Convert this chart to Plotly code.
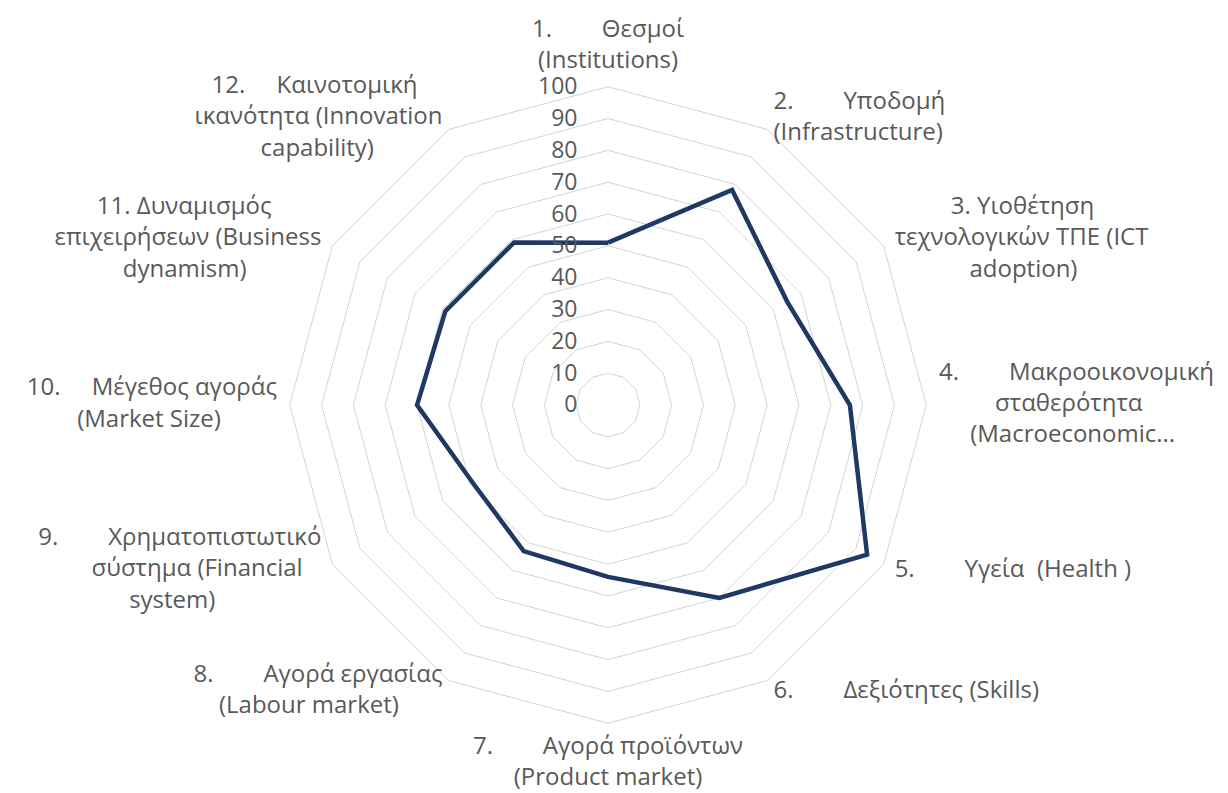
import plotly.graph_objects as go

NB = "\u00a0"

categories = [
    f"1.{NB*8}Θεσμοί<br>(Institutions)",
    f"2.{NB*8}Υποδομή<br>(Infrastructure)",
    f"{NB*9}3. Υιοθέτηση<br>τεχνολογικών ΤΠΕ (ICT<br>{NB*12}adoption)",
    f"4.{NB*8}Μακροοικονομική<br>{NB*9}σταθερότητα<br>{NB*5}(Macroeconomic...",
    f"5.{NB*8}Υγεία{NB*2}(Health )",
    f"6.{NB*8}Δεξιότητες (Skills)",
    f"7.{NB*8}Αγορά προϊόντων<br>(Product market)",
    f"8.{NB*8}Αγορά εργασίας<br>(Labour market){NB*7}",
    f"9.{NB*8}Χρηματοπιστωτικό<br>σύστημα (Financial{NB*3}<br>system){NB*17}",
    f"10.{NB*5}Μέγεθος αγοράς<br>(Market Size){NB*9}",
    f"11. Δυναμισμός{NB*8}<br>επιχειρήσεων (Business<br>dynamism){NB*12}",
    f"12.{NB*5}Καινοτομική{NB*4}<br>ικανότητα (Innovation<br>capability){NB*11}",
]
values = [51, 78, 65, 76, 94, 70, 54, 53, 49, 60, 59, 59]
radial_ticks = [0, 10, 20, 30, 40, 50, 60, 70, 80, 90, 100]

# label placement (style): radius just outside the 100 ring and side of each label
LABEL_R = 104
label_positions = ["top center"] + ["middle right"] * 5 + ["bottom center"] + ["middle left"] * 5

TEXT = "#595959"
LINE = "#1F3864"
GRID = "#D3D3D3"
FONT = "Open Sans"

fig = go.Figure()
fig.add_trace(go.Scatterpolar(
    r=values + values[:1],
    theta=categories + categories[:1],
    mode="lines",
    line=dict(color=LINE, width=4.5),
    showlegend=False,
    hoverinfo="r+theta",
))
fig.add_trace(go.Scatterpolar(
    r=[LABEL_R] * len(categories),
    theta=categories,
    mode="text",
    text=categories,
    textposition=label_positions,
    textfont=dict(family=FONT, size=24, color=TEXT),
    cliponaxis=False,
    showlegend=False,
    hoverinfo="skip",
))

fig.update_layout(
    width=1228, height=793,
    paper_bgcolor="white", plot_bgcolor="white",
    margin=dict(l=93, r=121, t=66, b=65),
    font=dict(family=FONT, color=TEXT, size=24),
    polar=dict(
        bgcolor="white",
        gridshape="linear",
        radialaxis=dict(
            range=[0, LABEL_R],
            tickvals=radial_ticks,
            angle=90,
            side="counterclockwise",
            showline=False,
            gridcolor=GRID,
            gridwidth=1,
            ticks="outside",
            ticklen=22,
            tickcolor="rgba(0,0,0,0)",
            tickfont=dict(family=FONT, size=23, color=TEXT),
            tickangle=90,
        ),
        angularaxis=dict(
            direction="clockwise",
            rotation=90,
            showgrid=False,
            showline=False,
            ticks="",
            showticklabels=False,
        ),
    ),
)

fig.write_html("out.html")
